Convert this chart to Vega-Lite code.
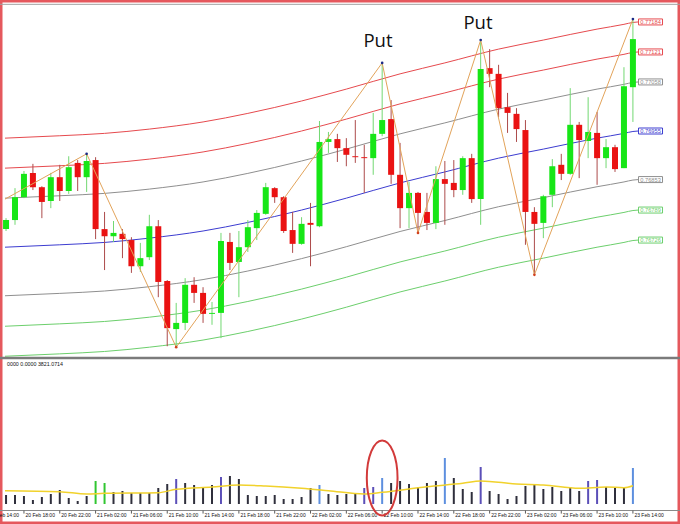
{
  "$schema": "https://vega.github.io/schema/vega-lite/v6.json",
  "width": 680,
  "height": 524,
  "padding": 0,
  "autosize": "none",
  "background": "white",
  "config": {
    "view": {"stroke": "#e5585d", "strokeWidth": 5},
    "font": "Liberation Sans"
  },
  "datasets": {
    "candles": [
      {"t": "2015-02-20T16:00", "o": 0.76749, "h": 0.76772, "l": 0.76745, "c": 0.76768, "v": 1881, "k": "n"},
      {"t": "2015-02-20T17:00", "o": 0.76768, "h": 0.76835, "l": 0.76758, "c": 0.76816, "v": 1881, "k": "n"},
      {"t": "2015-02-20T18:00", "o": 0.76816, "h": 0.76871, "l": 0.76814, "c": 0.76865, "v": 1672, "k": "n"},
      {"t": "2015-02-20T19:00", "o": 0.76867, "h": 0.76886, "l": 0.76831, "c": 0.76837, "v": 836, "k": "n"},
      {"t": "2015-02-20T20:00", "o": 0.76837, "h": 0.76839, "l": 0.76772, "c": 0.76806, "v": 1463, "k": "n"},
      {"t": "2015-02-20T21:00", "o": 0.76808, "h": 0.76867, "l": 0.76793, "c": 0.76858, "v": 2090, "k": "n"},
      {"t": "2015-02-20T22:00", "o": 0.76858, "h": 0.76884, "l": 0.76808, "c": 0.76829, "v": 2926, "k": "n"},
      {"t": "2015-02-20T23:00", "o": 0.76829, "h": 0.76902, "l": 0.76823, "c": 0.76879, "v": 1254, "k": "n"},
      {"t": "2015-02-21T00:00", "o": 0.76888, "h": 0.76894, "l": 0.76829, "c": 0.76858, "v": 627, "k": "n"},
      {"t": "2015-02-21T01:00", "o": 0.76858, "h": 0.76907, "l": 0.76827, "c": 0.76892, "v": 1672, "k": "n"},
      {"t": "2015-02-21T02:00", "o": 0.76894, "h": 0.76900, "l": 0.76728, "c": 0.76749, "v": 4807, "k": "g"},
      {"t": "2015-02-21T03:00", "o": 0.76749, "h": 0.76785, "l": 0.76663, "c": 0.76734, "v": 4389, "k": "g"},
      {"t": "2015-02-21T04:00", "o": 0.76734, "h": 0.76766, "l": 0.76722, "c": 0.76741, "v": 2508, "k": "n"},
      {"t": "2015-02-21T05:00", "o": 0.76739, "h": 0.76749, "l": 0.76688, "c": 0.76728, "v": 2717, "k": "n"},
      {"t": "2015-02-21T06:00", "o": 0.76726, "h": 0.76732, "l": 0.76657, "c": 0.76671, "v": 2299, "k": "n"},
      {"t": "2015-02-21T07:00", "o": 0.76671, "h": 0.76720, "l": 0.76659, "c": 0.76688, "v": 2299, "k": "n"},
      {"t": "2015-02-21T08:00", "o": 0.76690, "h": 0.76779, "l": 0.76684, "c": 0.76755, "v": 2299, "k": "n"},
      {"t": "2015-02-21T09:00", "o": 0.76755, "h": 0.76768, "l": 0.76606, "c": 0.76638, "v": 3344, "k": "n"},
      {"t": "2015-02-21T10:00", "o": 0.76640, "h": 0.76642, "l": 0.76503, "c": 0.76541, "v": 4180, "k": "n"},
      {"t": "2015-02-21T11:00", "o": 0.76539, "h": 0.76594, "l": 0.76501, "c": 0.76552, "v": 5225, "k": "p"},
      {"t": "2015-02-21T12:00", "o": 0.76552, "h": 0.76646, "l": 0.76537, "c": 0.76632, "v": 4389, "k": "n"},
      {"t": "2015-02-21T13:00", "o": 0.76632, "h": 0.76648, "l": 0.76594, "c": 0.76615, "v": 3971, "k": "n"},
      {"t": "2015-02-21T14:00", "o": 0.76615, "h": 0.76627, "l": 0.76552, "c": 0.76571, "v": 3344, "k": "n"},
      {"t": "2015-02-21T15:00", "o": 0.76571, "h": 0.76596, "l": 0.76548, "c": 0.76573, "v": 3971, "k": "n"},
      {"t": "2015-02-21T16:00", "o": 0.76573, "h": 0.76741, "l": 0.76520, "c": 0.76724, "v": 5643, "k": "p"},
      {"t": "2015-02-21T17:00", "o": 0.76722, "h": 0.76741, "l": 0.76663, "c": 0.76678, "v": 5852, "k": "n"},
      {"t": "2015-02-21T18:00", "o": 0.76680, "h": 0.76745, "l": 0.76606, "c": 0.76711, "v": 5225, "k": "n"},
      {"t": "2015-02-21T19:00", "o": 0.76711, "h": 0.76768, "l": 0.76701, "c": 0.76753, "v": 1881, "k": "n"},
      {"t": "2015-02-21T20:00", "o": 0.76751, "h": 0.76789, "l": 0.76726, "c": 0.76783, "v": 1672, "k": "n"},
      {"t": "2015-02-21T21:00", "o": 0.76781, "h": 0.76846, "l": 0.76779, "c": 0.76837, "v": 1672, "k": "n"},
      {"t": "2015-02-21T22:00", "o": 0.76835, "h": 0.76837, "l": 0.76804, "c": 0.76816, "v": 1881, "k": "n"},
      {"t": "2015-02-21T23:00", "o": 0.76816, "h": 0.76818, "l": 0.76741, "c": 0.76745, "v": 1045, "k": "n"},
      {"t": "2015-02-22T00:00", "o": 0.76747, "h": 0.76785, "l": 0.76699, "c": 0.76718, "v": 1045, "k": "n"},
      {"t": "2015-02-22T01:00", "o": 0.76718, "h": 0.76774, "l": 0.76716, "c": 0.76760, "v": 1463, "k": "n"},
      {"t": "2015-02-22T02:00", "o": 0.76762, "h": 0.76804, "l": 0.76671, "c": 0.76758, "v": 3344, "k": "n"},
      {"t": "2015-02-22T03:00", "o": 0.76755, "h": 0.76976, "l": 0.76753, "c": 0.76932, "v": 3971, "k": "b"},
      {"t": "2015-02-22T04:00", "o": 0.76932, "h": 0.76953, "l": 0.76909, "c": 0.76938, "v": 2090, "k": "n"},
      {"t": "2015-02-22T05:00", "o": 0.76938, "h": 0.76949, "l": 0.76890, "c": 0.76919, "v": 1881, "k": "n"},
      {"t": "2015-02-22T06:00", "o": 0.76919, "h": 0.76940, "l": 0.76881, "c": 0.76905, "v": 2090, "k": "n"},
      {"t": "2015-02-22T07:00", "o": 0.76902, "h": 0.76978, "l": 0.76888, "c": 0.76900, "v": 2090, "k": "n"},
      {"t": "2015-02-22T08:00", "o": 0.76900, "h": 0.76926, "l": 0.76825, "c": 0.76898, "v": 3344, "k": "p"},
      {"t": "2015-02-22T09:00", "o": 0.76898, "h": 0.76993, "l": 0.76863, "c": 0.76949, "v": 3553, "k": "p"},
      {"t": "2015-02-22T10:00", "o": 0.76949, "h": 0.77098, "l": 0.76944, "c": 0.76978, "v": 5434, "k": "b"},
      {"t": "2015-02-22T11:00", "o": 0.76980, "h": 0.77020, "l": 0.76844, "c": 0.76863, "v": 4389, "k": "n"},
      {"t": "2015-02-22T12:00", "o": 0.76863, "h": 0.76930, "l": 0.76751, "c": 0.76793, "v": 4807, "k": "n"},
      {"t": "2015-02-22T13:00", "o": 0.76793, "h": 0.76848, "l": 0.76751, "c": 0.76825, "v": 4180, "k": "n"},
      {"t": "2015-02-22T14:00", "o": 0.76825, "h": 0.76827, "l": 0.76741, "c": 0.76783, "v": 3553, "k": "n"},
      {"t": "2015-02-22T15:00", "o": 0.76785, "h": 0.76825, "l": 0.76747, "c": 0.76762, "v": 4389, "k": "n"},
      {"t": "2015-02-22T16:00", "o": 0.76762, "h": 0.76881, "l": 0.76749, "c": 0.76854, "v": 4807, "k": "n"},
      {"t": "2015-02-22T17:00", "o": 0.76854, "h": 0.76892, "l": 0.76758, "c": 0.76844, "v": 9614, "k": "b"},
      {"t": "2015-02-22T18:00", "o": 0.76846, "h": 0.76894, "l": 0.76816, "c": 0.76831, "v": 5434, "k": "n"},
      {"t": "2015-02-22T19:00", "o": 0.76831, "h": 0.76902, "l": 0.76821, "c": 0.76898, "v": 3135, "k": "n"},
      {"t": "2015-02-22T20:00", "o": 0.76898, "h": 0.76907, "l": 0.76804, "c": 0.76812, "v": 2508, "k": "n"},
      {"t": "2015-02-22T21:00", "o": 0.76812, "h": 0.77146, "l": 0.76758, "c": 0.77085, "v": 7733, "k": "p"},
      {"t": "2015-02-22T22:00", "o": 0.77087, "h": 0.77127, "l": 0.77047, "c": 0.77075, "v": 2717, "k": "n"},
      {"t": "2015-02-22T23:00", "o": 0.77075, "h": 0.77094, "l": 0.76984, "c": 0.77003, "v": 2090, "k": "n"},
      {"t": "2015-02-23T00:00", "o": 0.77005, "h": 0.77035, "l": 0.76951, "c": 0.76993, "v": 1045, "k": "n"},
      {"t": "2015-02-23T01:00", "o": 0.76991, "h": 0.77003, "l": 0.76932, "c": 0.76959, "v": 1672, "k": "n"},
      {"t": "2015-02-23T02:00", "o": 0.76957, "h": 0.76978, "l": 0.76716, "c": 0.76785, "v": 3762, "k": "n"},
      {"t": "2015-02-23T03:00", "o": 0.76785, "h": 0.76795, "l": 0.76653, "c": 0.76760, "v": 3971, "k": "n"},
      {"t": "2015-02-23T04:00", "o": 0.76762, "h": 0.76821, "l": 0.76730, "c": 0.76818, "v": 3135, "k": "n"},
      {"t": "2015-02-23T05:00", "o": 0.76821, "h": 0.76896, "l": 0.76795, "c": 0.76881, "v": 3553, "k": "n"},
      {"t": "2015-02-23T06:00", "o": 0.76884, "h": 0.76907, "l": 0.76852, "c": 0.76865, "v": 2717, "k": "n"},
      {"t": "2015-02-23T07:00", "o": 0.76865, "h": 0.77045, "l": 0.76863, "c": 0.76968, "v": 3553, "k": "n"},
      {"t": "2015-02-23T08:00", "o": 0.76968, "h": 0.76974, "l": 0.76856, "c": 0.76936, "v": 2717, "k": "n"},
      {"t": "2015-02-23T09:00", "o": 0.76934, "h": 0.77026, "l": 0.76898, "c": 0.76953, "v": 4807, "k": "p"},
      {"t": "2015-02-23T10:00", "o": 0.76951, "h": 0.76995, "l": 0.76842, "c": 0.76898, "v": 5016, "k": "p"},
      {"t": "2015-02-23T11:00", "o": 0.76898, "h": 0.76938, "l": 0.76877, "c": 0.76921, "v": 3553, "k": "n"},
      {"t": "2015-02-23T12:00", "o": 0.76921, "h": 0.76926, "l": 0.76869, "c": 0.76875, "v": 3344, "k": "n"},
      {"t": "2015-02-23T13:00", "o": 0.76877, "h": 0.77089, "l": 0.76877, "c": 0.77049, "v": 3344, "k": "n"},
      {"t": "2015-02-23T14:00", "o": 0.77047, "h": 0.77190, "l": 0.76974, "c": 0.77148, "v": 7524, "k": "b"}
    ],
    "chan": [
      {"t": "2015-02-20T15:53", "r3": 0.76940, "r2": 0.76877, "r1": 0.76814, "c": 0.76711, "d1": 0.76609, "d2": 0.76545, "d3": 0.76482},
      {"t": "2015-02-20T22:00", "r3": 0.76945, "r2": 0.76882, "r1": 0.76819, "c": 0.76716, "d1": 0.76614, "d2": 0.76550, "d3": 0.76487},
      {"t": "2015-02-21T03:00", "r3": 0.76950, "r2": 0.76887, "r1": 0.76824, "c": 0.76721, "d1": 0.76619, "d2": 0.76555, "d3": 0.76492},
      {"t": "2015-02-21T08:00", "r3": 0.76959, "r2": 0.76896, "r1": 0.76833, "c": 0.76730, "d1": 0.76628, "d2": 0.76564, "d3": 0.76501},
      {"t": "2015-02-21T14:00", "r3": 0.76974, "r2": 0.76911, "r1": 0.76848, "c": 0.76745, "d1": 0.76643, "d2": 0.76579, "d3": 0.76516},
      {"t": "2015-02-21T19:00", "r3": 0.76992, "r2": 0.76929, "r1": 0.76866, "c": 0.76763, "d1": 0.76661, "d2": 0.76597, "d3": 0.76534},
      {"t": "2015-02-22T01:00", "r3": 0.77018, "r2": 0.76955, "r1": 0.76892, "c": 0.76789, "d1": 0.76687, "d2": 0.76623, "d3": 0.76560},
      {"t": "2015-02-22T06:00", "r3": 0.77043, "r2": 0.76980, "r1": 0.76917, "c": 0.76814, "d1": 0.76712, "d2": 0.76648, "d3": 0.76585},
      {"t": "2015-02-22T12:00", "r3": 0.77075, "r2": 0.77012, "r1": 0.76949, "c": 0.76846, "d1": 0.76744, "d2": 0.76680, "d3": 0.76617},
      {"t": "2015-02-22T17:00", "r3": 0.77098, "r2": 0.77035, "r1": 0.76972, "c": 0.76869, "d1": 0.76767, "d2": 0.76703, "d3": 0.76640},
      {"t": "2015-02-22T23:00", "r3": 0.77127, "r2": 0.77064, "r1": 0.77001, "c": 0.76898, "d1": 0.76796, "d2": 0.76732, "d3": 0.76669},
      {"t": "2015-02-23T04:00", "r3": 0.77146, "r2": 0.77083, "r1": 0.77020, "c": 0.76917, "d1": 0.76815, "d2": 0.76751, "d3": 0.76688},
      {"t": "2015-02-23T10:00", "r3": 0.77169, "r2": 0.77106, "r1": 0.77043, "c": 0.76940, "d1": 0.76838, "d2": 0.76774, "d3": 0.76711},
      {"t": "2015-02-23T13:00", "r3": 0.77179, "r2": 0.77116, "r1": 0.77053, "c": 0.76950, "d1": 0.76848, "d2": 0.76784, "d3": 0.76721},
      {"t": "2015-02-23T14:00", "r3": 0.77183, "r2": 0.77120, "r1": 0.77057, "c": 0.76954, "d1": 0.76852, "d2": 0.76788, "d3": 0.76725},
      {"t": "2015-02-23T14:36", "r3": 0.77184, "r2": 0.77121, "r1": 0.77058, "c": 0.76955, "d1": 0.76853, "d2": 0.76789, "d3": 0.76726}
    ],
    "zz": [
      {"t": "2015-02-20T15:53", "p": 0.76812, "k": "s"},
      {"t": "2015-02-21T01:00", "p": 0.76907, "k": "h"},
      {"t": "2015-02-21T11:00", "p": 0.76501, "k": "l"},
      {"t": "2015-02-22T10:00", "p": 0.77098, "k": "h"},
      {"t": "2015-02-22T14:00", "p": 0.76741, "k": "l"},
      {"t": "2015-02-22T21:00", "p": 0.77146, "k": "h"},
      {"t": "2015-02-23T03:00", "p": 0.76653, "k": "l"},
      {"t": "2015-02-23T14:00", "p": 0.77190, "k": "h"}
    ],
    "tags": [
      {"line": "r3", "p": 0.77184, "s": "0.77184"},
      {"line": "r2", "p": 0.77121, "s": "0.77121"},
      {"line": "r1", "p": 0.77058, "s": "0.77058"},
      {"line": "c", "p": 0.76955, "s": "0.76955"},
      {"line": "d1", "p": 0.76853, "s": "0.76853"},
      {"line": "d2", "p": 0.76789, "s": "0.76789"},
      {"line": "d3", "p": 0.76726, "s": "0.76726"}
    ],
    "notes": [
      {"t": "2015-02-22T09:32", "p": 0.77131, "s": "Put"},
      {"t": "2015-02-22T20:42", "p": 0.77169, "s": "Put"}
    ],
    "ma": [
      {"t": "2015-02-20T15:53", "v": 2780},
      {"t": "2015-02-20T22:00", "v": 2571},
      {"t": "2015-02-21T01:00", "v": 2090},
      {"t": "2015-02-21T03:00", "v": 2236},
      {"t": "2015-02-21T09:00", "v": 2362},
      {"t": "2015-02-21T11:00", "v": 3072},
      {"t": "2015-02-21T15:00", "v": 3553},
      {"t": "2015-02-21T18:00", "v": 3971},
      {"t": "2015-02-21T21:00", "v": 3762},
      {"t": "2015-02-22T01:00", "v": 3281},
      {"t": "2015-02-22T04:00", "v": 2780},
      {"t": "2015-02-22T08:00", "v": 2090},
      {"t": "2015-02-22T10:00", "v": 2445},
      {"t": "2015-02-22T15:00", "v": 3616},
      {"t": "2015-02-22T19:00", "v": 4326},
      {"t": "2015-02-22T21:00", "v": 4807},
      {"t": "2015-02-23T01:00", "v": 4180},
      {"t": "2015-02-23T04:00", "v": 3971},
      {"t": "2015-02-23T08:00", "v": 3281},
      {"t": "2015-02-23T11:00", "v": 3553},
      {"t": "2015-02-23T13:00", "v": 3407},
      {"t": "2015-02-23T14:00", "v": 3821}
    ],
    "ticks": [
      {"t": "2015-02-20T14:00"},
      {"t": "2015-02-20T18:00"},
      {"t": "2015-02-20T22:00"},
      {"t": "2015-02-21T02:00"},
      {"t": "2015-02-21T06:00"},
      {"t": "2015-02-21T10:00"},
      {"t": "2015-02-21T14:00"},
      {"t": "2015-02-21T18:00"},
      {"t": "2015-02-21T22:00"},
      {"t": "2015-02-22T02:00"},
      {"t": "2015-02-22T06:00"},
      {"t": "2015-02-22T10:00"},
      {"t": "2015-02-22T14:00"},
      {"t": "2015-02-22T18:00"},
      {"t": "2015-02-22T22:00"},
      {"t": "2015-02-23T02:00"},
      {"t": "2015-02-23T06:00"},
      {"t": "2015-02-23T10:00"},
      {"t": "2015-02-23T14:00"}
    ]
  },
  "layer": [
    {
      "layer": [
        {
          "data": {"values": [{"s": "top"}]},
          "mark": {"type": "rule", "color": "#a3a3a3", "strokeWidth": 1},
          "encoding": {
            "y": {"datum": 0.77221, "type": "quantitative", "scale": {"domain": [0.761297, 0.772301], "nice": false, "zero": false}, "axis": null}
          }
        },
        {
          "data": {"name": "chan"},
          "transform": [{"fold": ["r3", "r2", "r1", "c", "d1", "d2", "d3"], "as": ["line", "p"]}],
          "mark": {"type": "line", "strokeWidth": 1, "interpolate": "monotone"},
          "encoding": {
            "x": {"field": "t", "type": "temporal", "axis": null},
            "y": {"field": "p", "type": "quantitative", "scale": {"domain": [0.761297, 0.772301], "nice": false, "zero": false}, "axis": null},
            "color": {
              "field": "line", "type": "nominal", "legend": null,
              "scale": {"domain": ["r3", "r2", "r1", "c", "d1", "d2", "d3"], "range": ["#e64a4e", "#e64a4e", "#8f8f8f", "#3c3cd0", "#8f8f8f", "#6ccf6c", "#6ccf6c"]}
            }
          }
        },
        {
          "data": {"name": "candles"},
          "mark": {"type": "rule", "strokeWidth": 1},
          "encoding": {
            "x": {
              "field": "t", "type": "temporal", "axis": null,
              "scale": {
                "domain": [
                  {"year": 2015, "month": 2, "date": 20, "hours": 15, "minutes": 53},
                  {"year": 2015, "month": 2, "date": 23, "hours": 18, "minutes": 42}
                ],
                "nice": false
              }
            },
            "y": {"field": "l", "type": "quantitative", "scale": {"domain": [0.761297, 0.772301], "nice": false, "zero": false}, "axis": null},
            "y2": {"field": "h"},
            "color": {"condition": {"test": "datum.c >= datum.o", "value": "#72d872"}, "value": "#ad4b4b"}
          }
        },
        {
          "data": {"name": "candles"},
          "mark": {"type": "bar", "size": 6},
          "encoding": {
            "x": {"field": "t", "type": "temporal", "axis": null},
            "y": {"field": "o", "type": "quantitative", "scale": {"domain": [0.761297, 0.772301], "nice": false, "zero": false}, "axis": null},
            "y2": {"field": "c"},
            "color": {"condition": {"test": "datum.c >= datum.o", "value": "#17e617"}, "value": "#ea1212"}
          }
        },
        {
          "data": {"name": "zz"},
          "mark": {"type": "line", "color": "#e2a35a", "strokeWidth": 1},
          "encoding": {
            "x": {"field": "t", "type": "temporal", "axis": null},
            "y": {"field": "p", "type": "quantitative", "scale": {"domain": [0.761297, 0.772301], "nice": false, "zero": false}, "axis": null}
          }
        },
        {
          "data": {"name": "zz"},
          "transform": [{"filter": "datum.k != 's'"}],
          "mark": {"type": "point", "filled": true, "size": 7, "opacity": 1},
          "encoding": {
            "x": {"field": "t", "type": "temporal", "axis": null},
            "y": {"field": "p", "type": "quantitative", "scale": {"domain": [0.761297, 0.772301], "nice": false, "zero": false}, "axis": null},
            "color": {"condition": {"test": "datum.k == 'h'", "value": "#1b2a86"}, "value": "#d2401e"}
          }
        },
        {
          "data": {"name": "tags"},
          "mark": {"type": "point", "shape": "M-1,-0.25H1V0.25H-1Z", "size": 576, "filled": false, "strokeWidth": 1, "opacity": 1},
          "encoding": {
            "x": {"datum": {"year": 2015, "month": 2, "date": 23, "hours": 15, "minutes": 58}, "type": "temporal", "axis": null},
            "y": {"field": "p", "type": "quantitative", "scale": {"domain": [0.761297, 0.772301], "nice": false, "zero": false}, "axis": null},
            "color": {
              "field": "line", "type": "nominal", "legend": null,
              "scale": {"domain": ["r3", "r2", "r1", "c", "d1", "d2", "d3"], "range": ["#e64a4e", "#e64a4e", "#8f8f8f", "#3c3cd0", "#8f8f8f", "#6ccf6c", "#6ccf6c"]}
            }
          }
        },
        {
          "data": {"name": "tags"},
          "mark": {"type": "text", "align": "center", "baseline": "middle", "font": "Liberation Sans", "fontSize": 5.7},
          "encoding": {
            "x": {"datum": {"year": 2015, "month": 2, "date": 23, "hours": 15, "minutes": 58}, "type": "temporal", "axis": null},
            "y": {"field": "p", "type": "quantitative", "scale": {"domain": [0.761297, 0.772301], "nice": false, "zero": false}, "axis": null},
            "text": {"field": "s"},
            "color": {
              "field": "line", "type": "nominal", "legend": null,
              "scale": {"domain": ["r3", "r2", "r1", "c", "d1", "d2", "d3"], "range": ["#e64a4e", "#e64a4e", "#8f8f8f", "#3c3cd0", "#8f8f8f", "#6ccf6c", "#6ccf6c"]}
            }
          }
        },
        {
          "data": {"name": "notes"},
          "mark": {"type": "text", "align": "center", "baseline": "alphabetic", "font": "Open Sans", "fontSize": 18.5, "color": "#111111"},
          "encoding": {
            "x": {"field": "t", "type": "temporal", "axis": null},
            "y": {"field": "p", "type": "quantitative", "scale": {"domain": [0.761297, 0.772301], "nice": false, "zero": false}, "axis": null},
            "text": {"field": "s"}
          }
        }
      ]
    },
    {
      "layer": [
        {
          "data": {"values": [{"s": "separator"}]},
          "mark": {"type": "rule", "color": "#7b7b7b", "strokeWidth": 2.5},
          "encoding": {
            "y": {"datum": 30514, "type": "quantitative", "scale": {"domain": [-4180, 105336], "nice": false, "zero": false}, "axis": null}
          }
        },
        {
          "data": {"values": [{"s": "time axis"}]},
          "mark": {"type": "rule", "color": "#8a8a8a", "strokeWidth": 1},
          "encoding": {
            "y": {"datum": -1359, "type": "quantitative", "scale": {"domain": [-4180, 105336], "nice": false, "zero": false}, "axis": null}
          }
        },
        {
          "data": {"name": "ticks"},
          "mark": {"type": "rule", "color": "#5a5a5a", "strokeWidth": 1},
          "encoding": {
            "x": {"field": "t", "type": "temporal", "axis": null},
            "y": {"datum": -1359, "type": "quantitative", "scale": {"domain": [-4180, 105336], "nice": false, "zero": false}, "axis": null},
            "y2": {"datum": -2006}
          }
        },
        {
          "data": {"name": "ticks"},
          "mark": {"type": "text", "align": "left", "baseline": "top", "dx": 1.5, "font": "Liberation Sans", "fontSize": 5, "color": "#111111"},
          "encoding": {
            "x": {"field": "t", "type": "temporal", "axis": null},
            "y": {"datum": -1944, "type": "quantitative", "scale": {"domain": [-4180, 105336], "nice": false, "zero": false}, "axis": null},
            "text": {"field": "t", "type": "temporal", "format": "%d %b %H:%M"}
          }
        },
        {
          "data": {"name": "candles"},
          "mark": {"type": "rule"},
          "encoding": {
            "x": {"field": "t", "type": "temporal", "axis": null},
            "y": {"field": "v", "type": "quantitative", "scale": {"domain": [-4180, 105336], "nice": false, "zero": false}, "axis": null},
            "y2": {"datum": 0},
            "color": {
              "field": "k", "type": "nominal", "legend": null,
              "scale": {"domain": ["n", "p", "b", "g"], "range": ["#2f2f3c", "#5b4fb8", "#5d8fdf", "#31c631"]}
            },
            "strokeWidth": {
              "field": "k", "type": "nominal", "legend": null,
              "scale": {"domain": ["n", "p", "b", "g"], "range": [2, 2, 4, 4]}
            }
          }
        },
        {
          "data": {"name": "ma"},
          "mark": {"type": "line", "color": "#f1d22c", "strokeWidth": 1.5, "interpolate": "monotone"},
          "encoding": {
            "x": {"field": "t", "type": "temporal", "axis": null},
            "y": {"field": "v", "type": "quantitative", "scale": {"domain": [-4180, 105336], "nice": false, "zero": false}, "axis": null}
          }
        },
        {
          "data": {"values": [{"s": "0000 0.0000 3821.0714"}]},
          "mark": {"type": "text", "align": "left", "baseline": "middle", "dx": 2, "font": "Liberation Sans", "fontSize": 5.3, "color": "#111111"},
          "encoding": {
            "x": {"datum": {"year": 2015, "month": 2, "date": 20, "hours": 15, "minutes": 53}, "type": "temporal", "axis": null},
            "y": {"datum": 29156, "type": "quantitative", "scale": {"domain": [-4180, 105336], "nice": false, "zero": false}, "axis": null},
            "text": {"field": "s"}
          }
        },
        {
          "data": {"values": [{"s": "mark"}]},
          "mark": {"type": "point", "shape": "M0,-1A0.41,1 0 1,1 0,1A0.41,1 0 1,1 0,-1Z", "size": 5625, "filled": false, "stroke": "#d23a3a", "strokeWidth": 2, "opacity": 1},
          "encoding": {
            "x": {"datum": {"year": 2015, "month": 2, "date": 22, "hours": 10}, "type": "temporal", "axis": null},
            "y": {"datum": 5434, "type": "quantitative", "scale": {"domain": [-4180, 105336], "nice": false, "zero": false}, "axis": null}
          }
        }
      ]
    }
  ],
  "resolve": {"scale": {"y": "independent", "color": "independent", "strokeWidth": "independent"}}
}
